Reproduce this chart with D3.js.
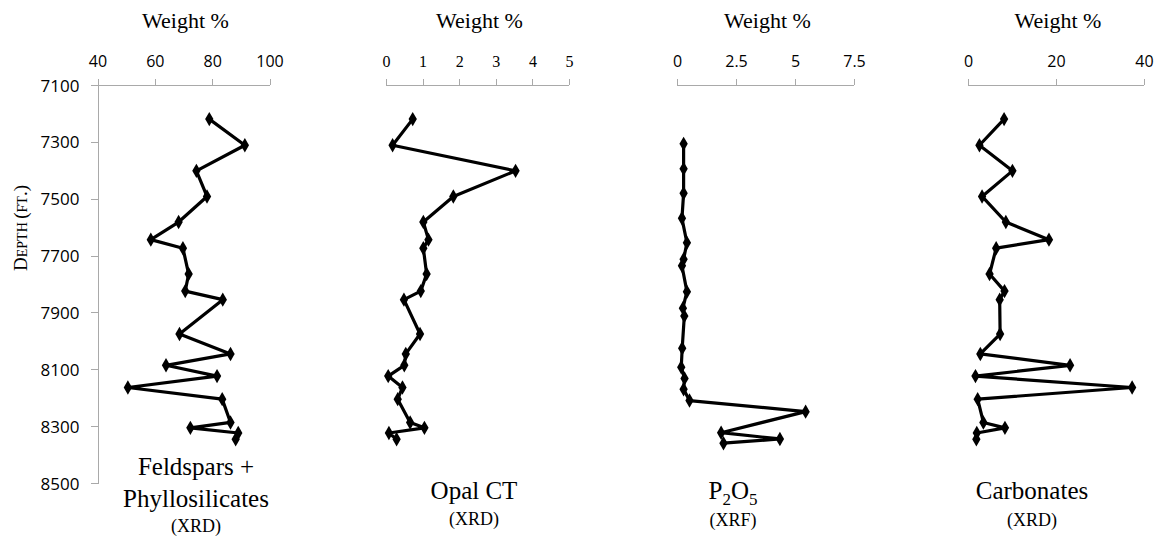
<!DOCTYPE html>
<html>
<head>
<meta charset="utf-8">
<script src="https://cdn.jsdelivr.net/npm/d3@7"></script>
<style>
  html, body { margin: 0; padding: 0; background: #fff; }
  svg { display: block; }
  .axis path, .axis line { stroke: #a9a9a9; stroke-width: 1; shape-rendering: crispEdges; }
  .sans text { font-family: "Open Sans", sans-serif; font-size: 16px; fill: #000; }
  .serif text { font-family: "Liberation Serif", "Times New Roman", serif; font-size: 16px; fill: #000; }
  .title { font-family: "Liberation Serif", "Times New Roman", serif; fill: #000; }
</style>
</head>
<body>
<svg id="chart" width="1165" height="540"></svg>
<script>
// Sample depths (ft) for the XRD measurements
const xrdDepth = [7220, 7312, 7402, 7492, 7582, 7644, 7674, 7765, 7825, 7855,
                  7976, 8046, 8086, 8124, 8164, 8205, 8287, 8306, 8324, 8346];
// Feldspars + phyllosilicates, weight %
const feldspar = [79.0, 91.4, 74.5, 78.2, 68.3, 58.6, 69.8, 71.8, 70.6, 83.7,
                  68.6, 86.4, 63.9, 81.7, 50.6, 83.5, 86.4, 72.4, 89.1, 88.2];
// Opal CT, weight %
const opalCT = [0.73, 0.18, 3.54, 1.84, 1.02, 1.16, 1.02, 1.11, 0.95, 0.49,
                0.93, 0.54, 0.50, 0.06, 0.45, 0.32, 0.66, 1.05, 0.08, 0.29];
// Carbonates, weight %
const carbonates = [8.2, 2.6, 10.1, 3.2, 8.6, 18.4, 6.4, 4.9, 8.3, 7.2,
                    7.3, 2.8, 23.2, 1.7, 37.3, 2.2, 3.5, 8.4, 2.0, 1.9];
// Sample depths (ft) for the XRF measurements
const xrfDepth = [7307, 7395, 7481, 7569, 7655, 7713, 7736, 7827, 7885, 7913,
                  8026, 8093, 8132, 8170, 8210, 8249, 8323, 8345, 8360];
// P2O5, weight %
const p2o5 = [0.28, 0.28, 0.28, 0.21, 0.42, 0.28, 0.21, 0.42, 0.25, 0.31,
              0.22, 0.18, 0.32, 0.28, 0.53, 5.45, 1.87, 4.36, 1.97];

// Axis ticks
const depthTicks = [7100, 7300, 7500, 7700, 7900, 8100, 8300, 8500];
const feldTicks = [40, 60, 80, 100];
const opalTicks = [0, 1, 2, 3, 4, 5];
const p2o5Ticks = [0, 2.5, 5, 7.5];
const carbTicks = [0, 20, 40];

const svg = d3.select("#chart");

const y = d3.scaleLinear().domain([7100, 8500]).range([85, 483]);

const panels = [
  { depth: xrdDepth, values: feldspar, domain: [40, 100], range: [97.5, 269.5], ticks: feldTicks,
    tickFont: "sans", fmt: d3.format("d"),
    label: [{ t: "Feldspars +", size: 25, y: 475 }, { t: "Phyllosilicates", size: 25, y: 507 }, { t: "(XRD)", size: 18, y: 532 }],
    labelX: 196 },
  { depth: xrdDepth, values: opalCT, domain: [0, 5], range: [386, 569], ticks: opalTicks,
    tickFont: "serif", fmt: d3.format("d"),
    label: [{ t: "Opal CT", size: 25, y: 499 }, { t: "(XRD)", size: 18, y: 525 }],
    labelX: 474 },
  { depth: xrfDepth, values: p2o5, domain: [0, 7.5], range: [677, 854], ticks: p2o5Ticks,
    tickFont: "sans", fmt: d => String(d),
    label: [{ t: "P2O5", size: 25, y: 499 }, { t: "(XRF)", size: 18, y: 526 }],
    labelX: 733 },
  { depth: xrdDepth, values: carbonates, domain: [0, 40], range: [968, 1144], ticks: carbTicks,
    tickFont: "sans", fmt: d3.format("d"),
    label: [{ t: "Carbonates", size: 25, y: 499 }, { t: "(XRD)", size: 18, y: 526 }],
    labelX: 1032 }
];

const diamond = d3.symbol().type(d3.symbolDiamond).size(60);

panels.forEach((p, i) => {
  const x = d3.scaleLinear().domain(p.domain).range(p.range);
  const g = svg.append("g");

  // top value axis
  const ax = g.append("g")
    .attr("class", "axis " + p.tickFont)
    .attr("transform", `translate(0,${y(7100)})`)
    .call(d3.axisTop(x).tickValues(p.ticks).tickFormat(p.fmt).tickSize(6).tickSizeOuter(0).tickPadding(12));
  ax.select(".domain").attr("d", `M${p.range[0]},0H${p.range[1]}`);

  // axis title
  g.append("text").attr("class", "title")
    .attr("x", (p.range[0] + p.range[1]) / 2 + 2)
    .attr("y", 28)
    .attr("text-anchor", "middle")
    .style("font-size", "22px")
    .text("Weight %");

  // profile line + markers
  const pts = p.values.map((v, k) => [x(v), y(p.depth[k])]);
  g.append("path")
    .attr("d", d3.line()(pts))
    .attr("fill", "none")
    .attr("stroke", "#000")
    .attr("stroke-width", 3.2)
    .attr("stroke-linejoin", "round");
  g.selectAll("path.mark").data(pts).join("path")
    .attr("class", "mark")
    .attr("transform", d => `translate(${d[0]},${d[1]})`)
    .attr("d", diamond)
    .attr("fill", "#000");

  // panel caption
  p.label.forEach(l => {
    const t = g.append("text").attr("class", "title")
      .attr("x", p.labelX).attr("y", l.y)
      .attr("text-anchor", "middle")
      .style("font-size", l.size + "px");
    if (l.t === "P2O5") {
      t.append("tspan").text("P");
      t.append("tspan").attr("dy", 6).style("font-size", "17px").text("2");
      t.append("tspan").attr("dy", -6).text("O");
      t.append("tspan").attr("dy", 6).style("font-size", "17px").text("5");
    } else {
      t.text(l.t);
    }
  });
});

// depth axis on the first panel
const yAx = svg.append("g")
  .attr("class", "axis sans")
  .attr("transform", "translate(97.5,0)")
  .call(d3.axisLeft(y).tickValues(depthTicks).tickFormat(d3.format("d")).tickSize(7).tickSizeOuter(0).tickPadding(11));
yAx.selectAll("text").attr("dy", "0.36em").style("font-size", "17px");

// depth axis title in small caps
const yt = svg.append("text").attr("class", "title")
  .attr("transform", "translate(27,228) rotate(-90)")
  .attr("text-anchor", "middle")
  .style("font-size", "19px");
yt.append("tspan").text("D");
yt.append("tspan").style("font-size", "14px").text("EPTH ");
yt.append("tspan").text("(");
yt.append("tspan").style("font-size", "14px").text("FT");
yt.append("tspan").text(".)");
</script>
</body>
</html>
